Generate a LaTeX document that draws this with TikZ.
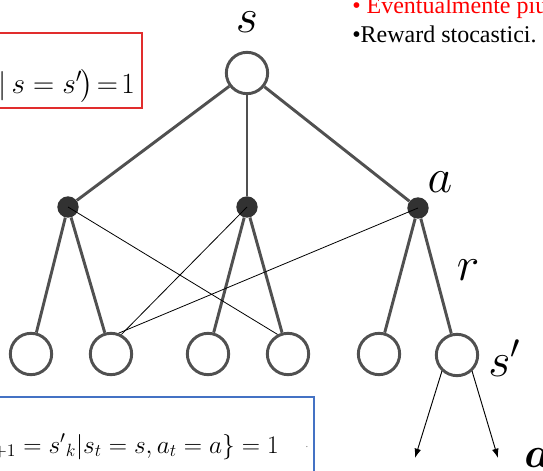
\RequirePackage{fix-cm}
\documentclass[tikz,border=0pt]{standalone}
\usepackage{amsmath}
\usepackage{bm}
\usepackage{fontspec}
\setmainfont{Liberation Serif}
\usetikzlibrary{arrows.meta}
\definecolor{treegray}{RGB}{80,80,80}
\definecolor{dotgray}{RGB}{50,50,50}
\definecolor{boxred}{RGB}{225,45,45}
\definecolor{boxblue}{RGB}{68,114,196}
\begin{document}
\begin{tikzpicture}[x=0.75pt,y=-0.75pt,
  statenode/.style={circle,draw=treegray,line width=2.2pt,fill=white,minimum size=31pt,inner sep=0pt},
  actnode/.style={circle,fill=dotgray,minimum size=16pt,inner sep=0pt},
  treeline/.style={treegray,line width=2.2pt},
  thinline/.style={black,line width=0.6pt},
  arrowline/.style={black,line width=0.7pt,-{Latex[length=7pt,width=5pt]}},
  biglabel/.style={font=\fontsize{36}{36}\selectfont,inner sep=0pt},
  bullettext/.style={font=\fontsize{18}{18}\selectfont,inner sep=0pt,anchor=base west}]
\useasboundingbox (0,0) rectangle (543,471);
\clip (0,0) rectangle (543,471);

% boxes
\draw[boxred,line width=0.8pt] (-10,33) rectangle (142,108);
\node[anchor=base east,inner sep=0pt,font=\fontsize{22}{22}\selectfont] (redeq) at (135,93)
  {$\vert\, s = s'\kern-1pt\bigr)\!=\!1$};
\draw[boxblue,line width=0.8pt] (-10,397) rectangle (314,490);
\node[anchor=base east,inner sep=0pt,font=\fontsize{19}{19}\selectfont] (blueeq) at (279,453)
  {$\Pr\{s_{t+1}={s'}_{k}|s_t=s,a_t=a\}=1$};
\node[inner sep=0pt,font=\fontsize{8}{8}\selectfont,text=gray] (bluedot) at (307,447) {.};

% top text
\node[bullettext,text=red] (t1) at (352,13) {• Eventualmente più};
\node[bullettext] (t2) at (352,42) {•Reward stocastici.};

% tree
\node[statenode] (root) at (247,73) {};
\node[actnode] (d1) at (68,207) {};
\node[actnode] (d2) at (247,207) {};
\node[actnode] (d3) at (418,208) {};
\node[statenode] (c1) at (31,354) {};
\node[statenode] (c2) at (111,354) {};
\node[statenode] (c3) at (208,354) {};
\node[statenode] (c4) at (288,354) {};
\node[statenode] (c5) at (379,354) {};
\node[statenode] (c6) at (457,355) {};

\draw[treeline] (root) -- (d1);
\draw[treeline] (root) -- (d2);
\draw[treeline] (root) -- (d3);
\draw[treeline] (d1) -- (c1);
\draw[treeline] (d1) -- (c2);
\draw[treeline] (d2) -- (c3);
\draw[treeline] (d2) -- (c4);
\draw[treeline] (d3) -- (c5);
\draw[treeline] (d3) -- (c6);

\draw[thinline] (d1.center) -- (c4.118);
\draw[thinline] (d2.center) -- (c2.62);
\draw[thinline] (d3.center) -- (c2.70);

% labels
\node[biglabel] (ls) at (247,22) {$s$};
\node[biglabel] (la) at (440,182) {$a$};
\node[biglabel] (lr) at (468,270) {$r$};
\node[biglabel,anchor=west] (lsp) at (488,358) {$s'$};

% arrows
\coordinate (e1) at (415,458);
\coordinate (e2) at (498,458);
\draw[arrowline] (c6.227) -- (e1);
\draw[arrowline] (c6.313) -- (e2);
\node[anchor=base west,inner sep=0pt,font=\fontsize{32}{32}\selectfont] (lap) at (524,467) {$\bm{a}'$};
\end{tikzpicture}
\end{document}
